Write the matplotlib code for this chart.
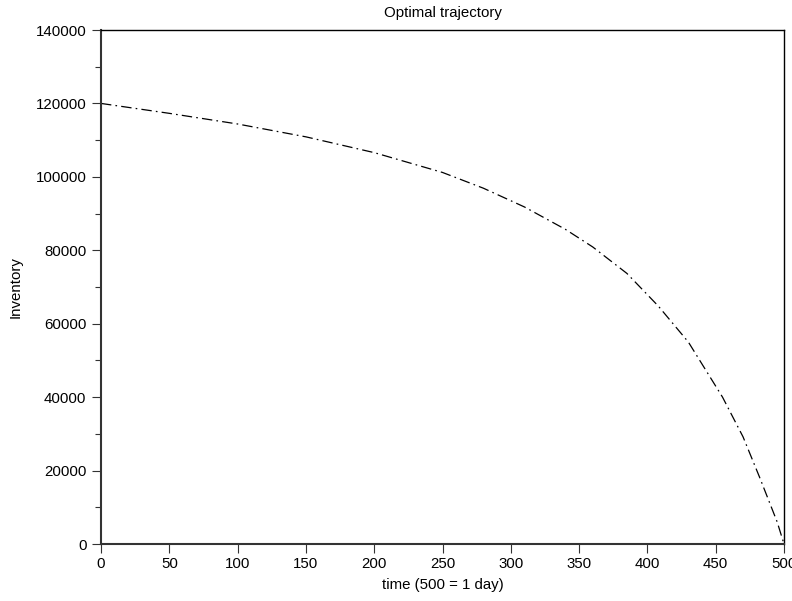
import matplotlib
matplotlib.use("Agg")
import matplotlib.pyplot as plt
from matplotlib.ticker import MultipleLocator

plt.rcParams['font.family'] = ['Liberation Sans', 'DejaVu Sans']
plt.rcParams['lines.scale_dashes'] = False

# data
time = [0, 50, 100, 150, 200, 250, 280, 310, 340, 360, 385, 408, 430,
        455, 470, 482, 495, 500]
inventory = [120000, 117300, 114400, 110900, 106600, 101200, 96900, 91800,
             85700, 80900, 73700, 64800, 55000, 40000, 29200, 18300, 6000, 0]

xticks = [0, 50, 100, 150, 200, 250, 300, 350, 400, 450, 500]
yticks = [0, 20000, 40000, 60000, 80000, 100000, 120000, 140000]

FS = 10.8

fig = plt.figure(figsize=(7.92, 6.01), dpi=100)
ax = fig.add_axes([101/792, 57/601, 683/792, 514/601])

line, = ax.plot(time, inventory, color='black', linewidth=0.9)
line.set_dashes((7.5, 3, 1.2, 3))

ax.set_xlim(0, 500)
ax.set_ylim(0, 140000)
ax.set_xticks(xticks)
ax.set_yticks(yticks)
ax.yaxis.set_minor_locator(MultipleLocator(10000))
ax.set_xticklabels([str(v) for v in xticks])
ax.set_yticklabels([str(v) for v in yticks])

ax.tick_params(axis='both', which='major', direction='out', length=6.5,
               width=0.8, color='#333333', labelsize=FS, pad=4)
ax.tick_params(axis='y', which='minor', direction='out', length=4,
               width=0.8, color='#333333')
ax.tick_params(axis='x', which='major', pad=3)

for side in ['left', 'bottom']:
    ax.spines[side].set_linewidth(1.5)
    ax.spines[side].set_color('#333333')
for side in ['top', 'right']:
    ax.spines[side].set_linewidth(1.0)
    ax.spines[side].set_color('black')

ax.set_title('Optimal trajectory', fontsize=FS, pad=9)
ax.set_xlabel('time (500 = 1 day)', fontsize=FS, labelpad=5)
ax.set_ylabel('Inventory', fontsize=FS, labelpad=9)

fig.savefig('out.png', dpi=100)
